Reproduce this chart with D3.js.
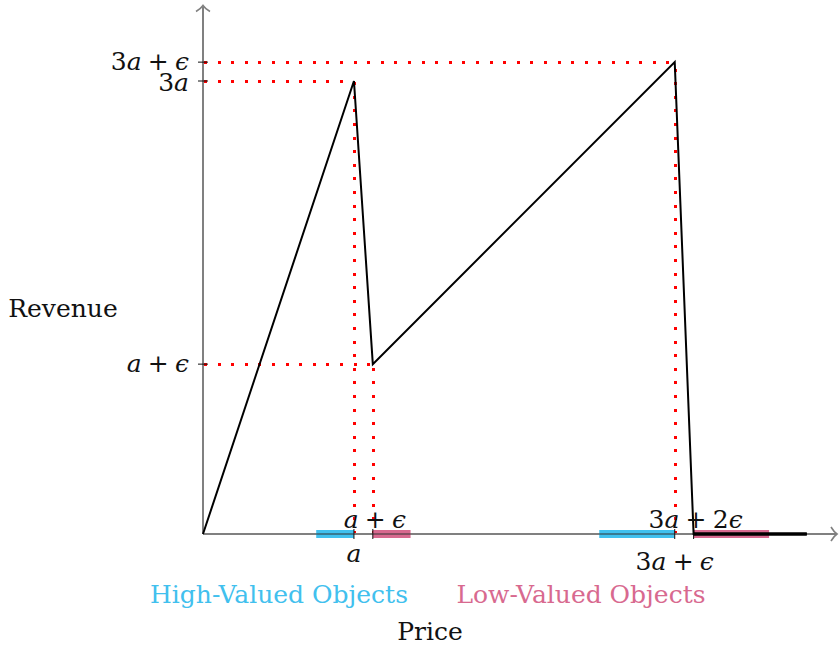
<!DOCTYPE html>
<html>
<head>
<meta charset="utf-8">
<script src="https://cdn.jsdelivr.net/npm/d3@7"></script>
<style>
  body { margin: 0; background: #fff; }
  svg text { font-family: "DejaVu Serif", "Liberation Serif", serif; fill: #111; }
</style>
</head>
<body>
<div class="chart"></div>
<script>
// price in units of a, epsilon = 0.125a
const prices = [0, 1, 1.125, 3.125, 3.25, 4];
const revenues = [0, 3, 1.125, 3.125, 0, 0];

const xTickValues = [1, 1.125, 3.125, 3.25];
const xTickNames = ['a', 'a + ϵ', '3a + ϵ', '3a + 2ϵ'];
const yTickValues = [3.125, 3, 1.125];
const yTickNames = ['3a + ϵ', '3a', 'a + ϵ'];

const highValued = [[0.75, 1], [2.625, 3.125]];
const lowValued = [[1.125, 1.375], [3.25, 3.75]];

const blue = '#41c0ee';
const pink = '#d8698f';

const svg = d3.select('.chart')
  .append('svg')
    .attr('width', 840)
    .attr('height', 648);

const x = d3.scaleLinear().domain([0, 4.2]).range([203, 837]);
const y = d3.scaleLinear().domain([0, 3.5]).range([534, 5.5]);

// writes "3a + ϵ" style labels with italic letters
const mathText = (sel, str) => {
  str.split('').forEach(ch => {
    const italic = /[aϵ]/.test(ch);
    sel.append('tspan')
      .style('font-style', italic ? 'italic' : 'normal')
      .text(ch === ' ' ? '\u2005' : ch);
  });
};

// guide lines, drawn as red dots
const guides = svg.append('g')
  .attr('fill', '#ff0000')
  .attr('shape-rendering', 'crispEdges');
const step = 13.6;

[[1, 3], [1.125, 1.125], [3.125, 3.125]].forEach(([px, r]) => {
  const gx = Math.round(x(px));
  const gy = Math.round(y(r));
  guides.selectAll(null)
    .data(d3.range(x(0) + 2, gx - 1, step))
    .enter()
    .append('rect')
      .attr('x', d => Math.round(d) - 1)
      .attr('y', gy - 1)
      .attr('width', 3).attr('height', 3);
  guides.selectAll(null)
    .data(d3.range(y(0) - 2, gy + 1, -step))
    .enter()
    .append('rect')
      .attr('x', gx - 1)
      .attr('y', d => Math.round(d) - 1)
      .attr('width', 3).attr('height', 3);
});

// axes
const axes = svg.append('g')
  .attr('stroke', '#808080')
  .attr('stroke-width', 2)
  .attr('fill', 'none');

axes.append('line')
  .attr('x1', x(0)).attr('y1', y(0))
  .attr('x2', x(4.2) - 1).attr('y2', y(0));
axes.append('line')
  .attr('x1', x(0)).attr('y1', y(0))
  .attr('x2', x(0)).attr('y2', y(3.5) + 1);

axes.append('path')
  .attr('d', `M${x(4.2) - 6},${y(0) - 7} Q${x(4.2) - 3},${y(0) - 2} ${x(4.2)},${y(0)} Q${x(4.2) - 3},${y(0) + 2} ${x(4.2) - 6},${y(0) + 7}`)
  .attr('stroke-width', 1.6);
axes.append('path')
  .attr('d', `M${x(0) - 7},${y(3.5) + 6} Q${x(0) - 2},${y(3.5) + 3} ${x(0)},${y(3.5)} Q${x(0) + 2},${y(3.5) + 3} ${x(0) + 7},${y(3.5) + 6}`)
  .attr('stroke-width', 1.6);

// object ranges
const bars = svg.append('g');
const drawRanges = (ranges, color) => {
  bars.selectAll(null)
    .data(ranges)
    .enter()
    .append('rect')
      .attr('x', d => x(d[0]))
      .attr('y', y(0) - 4)
      .attr('width', d => x(d[1]) - x(d[0]))
      .attr('height', 8)
      .attr('fill', color);
  bars.selectAll(null)
    .data(ranges)
    .enter()
    .append('line')
      .attr('x1', d => x(d[0]))
      .attr('x2', d => x(d[1]))
      .attr('y1', y(0))
      .attr('y2', y(0))
      .attr('stroke', '#333')
      .attr('stroke-width', 1);
};
drawRanges(highValued, blue);
drawRanges(lowValued, pink);

// ticks
const ticks = svg.append('g').attr('stroke', '#111').attr('stroke-width', 1);
xTickValues.forEach(v => {
  ticks.append('line')
    .attr('x1', x(v)).attr('x2', x(v))
    .attr('y1', y(0) - 5).attr('y2', y(0) + 5);
});
yTickValues.forEach(v => {
  ticks.append('line')
    .attr('x1', x(0) - 5).attr('x2', x(0) + 5)
    .attr('y1', y(v)).attr('y2', y(v));
});

// revenue curve
const line = d3.line()
  .x((d, i) => x(prices[i]))
  .y(d => y(d));

svg.append('path')
  .datum(revenues)
  .attr('d', line)
  .attr('fill', 'none')
  .attr('stroke', '#000')
  .attr('stroke-width', 2)
  .attr('stroke-linejoin', 'miter');

svg.append('line')
  .attr('x1', x(3.25)).attr('x2', x(4))
  .attr('y1', y(0)).attr('y2', y(0))
  .attr('stroke', '#000')
  .attr('stroke-width', 3.5);

// tick labels
const labels = svg.append('g').style('font-size', '25px');

xTickValues.forEach((v, i) => {
  const above = i % 2 === 1;
  const t = labels.append('text')
    .attr('x', x(v) + (above ? 2 : 0))
    .attr('y', above ? y(0) - 6 : y(0) + (i === 0 ? 28 : 36))
    .attr('text-anchor', 'middle');
  mathText(t, xTickNames[i]);
});

yTickValues.forEach((v, i) => {
  const t = labels.append('text')
    .attr('x', x(0) - 14)
    .attr('y', y(v) + (i === 1 ? 10 : 8))
    .attr('text-anchor', 'end');
  mathText(t, yTickNames[i]);
});

// axis titles
labels.append('text')
  .attr('x', 63).attr('y', 317)
  .attr('text-anchor', 'middle')
  .text('Revenue');

labels.append('text')
  .attr('x', 430).attr('y', 640)
  .attr('text-anchor', 'middle')
  .text('Price');

// legend
labels.append('text')
  .attr('x', 279).attr('y', 603)
  .attr('text-anchor', 'middle')
  .style('fill', blue)
  .text('High-Valued Objects');

labels.append('text')
  .attr('x', 581).attr('y', 603)
  .attr('text-anchor', 'middle')
  .style('fill', pink)
  .text('Low-Valued Objects');
</script>
</body>
</html>
